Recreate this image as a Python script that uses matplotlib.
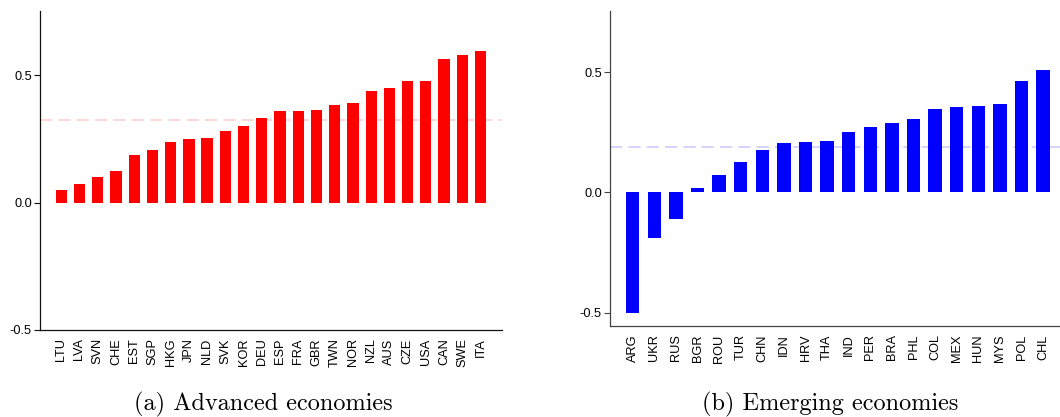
import numpy as np
import matplotlib
matplotlib.use("Agg")
import matplotlib.pyplot as plt

plt.rcParams['font.family'] = ['Liberation Sans', 'DejaVu Sans']
plt.rcParams['axes.unicode_minus'] = False

# Advanced economies
adv_names = ["LTU", "LVA", "SVN", "CHE", "EST", "SGP", "HKG", "JPN", "NLD", "SVK",
             "KOR", "DEU", "ESP", "FRA", "GBR", "TWN", "NOR", "NZL", "AUS", "CZE",
             "USA", "CAN", "SWE", "ITA"]
adv_vals = [0.050, 0.074, 0.100, 0.124, 0.187, 0.206, 0.238, 0.249, 0.253, 0.281,
            0.302, 0.332, 0.359, 0.360, 0.363, 0.383, 0.390, 0.437, 0.450, 0.477,
            0.477, 0.563, 0.582, 0.594]

# Emerging economies
emg_names = ["ARG", "UKR", "RUS", "BGR", "ROU", "TUR", "CHN", "IDN", "HRV", "THA",
             "IND", "PER", "BRA", "PHL", "COL", "MEX", "HUN", "MYS", "POL", "CHL"]
emg_vals = [-0.501, -0.190, -0.110, 0.018, 0.074, 0.126, 0.176, 0.205, 0.209, 0.214,
            0.252, 0.272, 0.288, 0.305, 0.347, 0.355, 0.359, 0.368, 0.463, 0.509]

yticks = [-0.5, 0.0, 0.5]
ytick_labels = ["-0.5", "0.0", "0.5"]

fig = plt.figure(figsize=(10.6, 4.17), dpi=100)
W, H = 1060.0, 417.0


def panel(rect, names, vals, color, mean_color, ylim, xpad, spine_color):
    ax = fig.add_axes(rect)
    x = np.arange(len(names))
    ax.bar(x, vals, width=0.62, color=color, zorder=3)
    ax.axhline(np.mean(vals), color=mean_color, lw=1.1, dashes=(8, 4), zorder=1)
    ax.set_xlim(-xpad[0], len(names) - 1 + xpad[1])
    ax.set_ylim(*ylim)
    ax.set_xticks(x)
    ax.set_xticklabels(names, rotation=90, fontsize=9.2)
    ax.set_yticks(yticks)
    ax.set_yticklabels(ytick_labels, fontsize=9.2)
    ax.tick_params(axis='x', length=0, pad=6)
    ax.tick_params(axis='y', length=4.5, width=0.8, pad=1.5, color=spine_color)
    for s in ['top', 'right']:
        ax.spines[s].set_visible(False)
    for s in ['left', 'bottom']:
        ax.spines[s].set_color(spine_color)
        ax.spines[s].set_linewidth(0.9)
    return ax


panel([40.3 / W, 1 - 330 / H, (501.5 - 40.3) / W, (330 - 11) / H],
      adv_names, adv_vals, '#ff0000', '#ffcccc', (-0.5, 0.753), (1.15, 1.15), '#111111')
panel([610.3 / W, 1 - 326 / H, (1068 - 610.3) / W, (326 - 11) / H],
      emg_names, emg_vals, '#0000ff', '#c8c8ff', (-0.556, 0.754), (1.04, 1.15), '#444444')

# sub-captions
fig.text(263 / W, 1 - 410.5 / H, "(a) Advanced economies", family='cmr10',
         fontsize=17.5, ha='center', va='baseline')
fig.text(830 / W, 1 - 410.5 / H, "(b) Emerging economies", family='cmr10',
         fontsize=17.5, ha='center', va='baseline')

fig.savefig("out.png", dpi=100)
